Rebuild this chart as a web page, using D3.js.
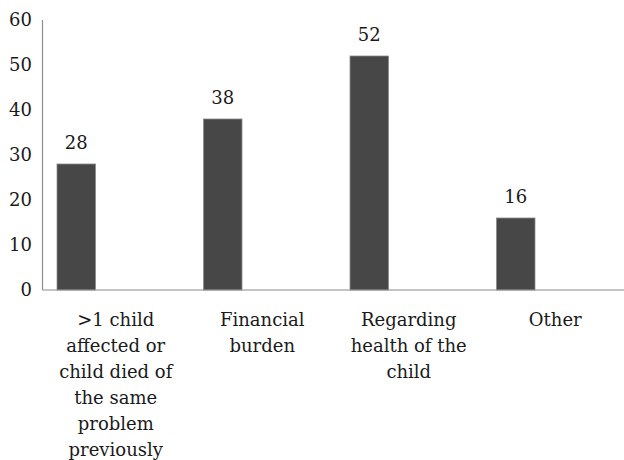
<!DOCTYPE html>
<html>
<head>
<meta charset="utf-8">
<script src="https://cdn.jsdelivr.net/npm/d3@7"></script>
<style>
  body { margin: 0; background: #fff; }
  text { font-family: "DejaVu Serif", serif; fill: #1a1a1a; }
</style>
</head>
<body>
<svg id="chart"></svg>
<script>
// Chart data
const categories = ["c1", "c2", "c3", "c4"];
const categoryLines = [
    [">1 child", "affected or", "child died of", "the same", "problem", "previously"],
    ["Financial", "burden"],
    ["Regarding", "health of the", "child"],
    ["Other"]
];
const values = [28, 38, 52, 16];
const yTicks = [0, 10, 20, 30, 40, 50, 60];

const width = 624, height = 460;
const plotLeft = 42.5, plotRight = 628.5, plotTop = 20, plotBottom = 290;

const svg = d3.select("#chart")
    .attr("width", width)
    .attr("height", height);

const x = d3.scaleBand().domain(categories).range([plotLeft, plotRight]);
const y = d3.scaleLinear().domain([0, 60]).range([plotBottom, plotTop]);

const barOffset = 14.5, barWidth = 38.5; // bar sits at left part of each band

// Y axis line
svg.append("line")
    .attr("x1", plotLeft).attr("x2", plotLeft)
    .attr("y1", y(60)).attr("y2", y(0))
    .attr("stroke", "#8c8c8c").attr("stroke-width", 1.2);

// Y tick labels
svg.selectAll(".ytick")
    .data(yTicks)
    .enter()
    .append("text")
    .attr("x", 32)
    .attr("y", d => y(d))
    .attr("dy", "0.35em")
    .attr("text-anchor", "end")
    .attr("font-size", 18)
    .text(d => d);

// Bars
svg.selectAll(".bar")
    .data(values)
    .enter()
    .append("rect")
    .attr("x", (d, i) => x(categories[i]) + barOffset)
    .attr("y", d => y(d))
    .attr("width", barWidth)
    .attr("height", d => y(0) - y(d))
    .attr("fill", "#474747")
    .attr("stroke", "#8a8a8a")
    .attr("stroke-width", 0.8);

// Value labels
svg.selectAll(".val")
    .data(values)
    .enter()
    .append("text")
    .attr("x", (d, i) => x(categories[i]) + barOffset + barWidth / 2)
    .attr("y", d => y(d) - 15)
    .attr("text-anchor", "middle")
    .attr("font-size", 18)
    .text(d => d);

// X axis line
svg.append("line")
    .attr("x1", plotLeft).attr("x2", width)
    .attr("y1", y(0)).attr("y2", y(0))
    .attr("stroke", "#8c8c8c").attr("stroke-width", 1.2);

// Category labels (multi-line)
categoryLines.forEach((lines, i) => {
    const t = svg.append("text")
        .attr("text-anchor", "middle")
        .attr("font-size", 18);
    lines.forEach((line, j) => {
        t.append("tspan")
            .attr("x", x(categories[i]) + x.bandwidth() / 2)
            .attr("y", 326 + j * 26)
            .text(line);
    });
});
</script>
</body>
</html>
